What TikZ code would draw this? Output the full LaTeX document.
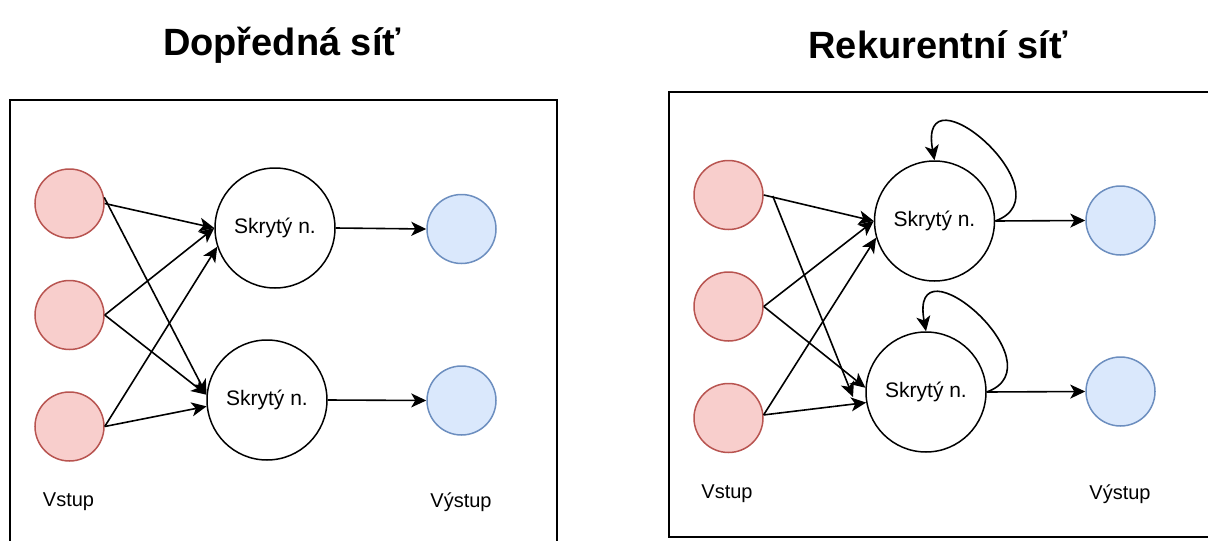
\documentclass[tikz,border=0pt]{standalone}
\usepackage{fontspec}
\setmainfont{Liberation Sans}
\usepackage{xcolor}
\usetikzlibrary{arrows.meta}

\definecolor{infill}{HTML}{F8CECC}
\definecolor{inline}{HTML}{B85450}
\definecolor{outfill}{HTML}{DAE8FC}
\definecolor{outline}{HTML}{6C8EBF}

\tikzset{
  neuron/.style={draw,shape=circle,inner sep=0pt,line width=1.5pt},
  inneuron/.style={neuron,fill=infill,draw=inline,minimum size=69pt},
  hidneuron/.style={neuron,minimum size=120pt,font=\fontsize{21}{25}\selectfont},
  outneuron/.style={neuron,fill=outfill,draw=outline,minimum size=69pt},
  nettitle/.style={font=\fontsize{38}{44}\selectfont\bfseries},
  layerlabel/.style={font=\fontsize{20}{24}\selectfont},
  netframe/.style={draw,line width=1.3pt},
}

\begin{document}
\begin{tikzpicture}[x=1pt,y=-1pt,line width=1.6pt,>={Stealth[length=15pt,width=14pt,inset=4pt]}]
\useasboundingbox (0,0) rectangle (1208,541);

% dopredna sit
\node (fftitle) at (282,45) [nettitle] {Dopředná síť};
\draw [netframe] (10,100) rectangle (557,560);

\node (ffin1) at (69.5,203.5) [inneuron] {};
\node (ffin2) at (69.5,315) [inneuron] {};
\node (ffin3) at (69.5,426.5) [inneuron] {};
\node (ffhid1) at (275,228) [hidneuron] {Skrytý n.};
\node (ffhid2) at (267,400) [hidneuron] {Skrytý n.};
\node (ffout1) at (461.5,229) [outneuron] {};
\node (ffout2) at (461.5,400.5) [outneuron] {};
\node (ffinlabel) at (68.5,502) [layerlabel] {Vstup};
\node (ffoutlabel) at (461,502) [layerlabel] {Výstup};

\draw [->] (ffin1.east) -- (ffhid1.west);
\draw [->] (ffin1.10) -- (ffhid2.175);
\draw [->] (ffin2.east) -- (ffhid1.west);
\draw [->] (ffin2.east) -- (ffhid2.175);
\draw [->] (ffin3.east) -- (ffhid1.198);
\draw [->] (ffin3.east) -- (ffhid2.186);
\draw [->] (ffhid1.east) -- (ffout1.west);
\draw [->] (ffhid2.east) -- (ffout2.west);

% rekurentni sit
\node (rnntitle) at (938,45) [nettitle] {Rekurentní síť};
\draw [netframe] (669,92) rectangle (1215,537);

\node (rnnin1) at (728.5,195) [inneuron] {};
\node (rnnin2) at (728.5,306.5) [inneuron] {};
\node (rnnin3) at (728.5,418) [inneuron] {};
\node (rnnhid1) at (934.5,221) [hidneuron] {Skrytý n.};
\node (rnnhid2) at (926,392) [hidneuron] {Skrytý n.};
\node (rnnout1) at (1120.5,220.5) [outneuron] {};
\node (rnnout2) at (1120.5,391.5) [outneuron] {};
\node (rnninlabel) at (727,494) [layerlabel] {Vstup};
\node (rnnoutlabel) at (1120,494) [layerlabel] {Výstup};
\coordinate (rnnstray) at (853,397);

\draw [->] (rnnin1.east) -- (rnnhid1.west);
\draw [->] (rnnin1.east) ++(9,1) -- (rnnstray);
\draw [->] (rnnin2.east) -- (rnnhid1.west);
\draw [->] (rnnin2.east) -- (rnnhid2.176);
\draw [->] (rnnin3.5) -- (rnnhid1.196);
\draw [->] (rnnin3.5) -- (rnnhid2.190);
\draw [->] (rnnhid1.east) -- (rnnout1.west);
\draw [->] (rnnhid2.east) -- (rnnout2.west);

% zpetne vazby
\draw [->] (rnnhid1.east) .. controls +(75,-27) and +(-18,-98) .. (rnnhid1.north);
\draw [->] (rnnhid2.east) .. controls +(75,-27) and +(-18,-98) .. (rnnhid2.north);
\end{tikzpicture}
\end{document}
